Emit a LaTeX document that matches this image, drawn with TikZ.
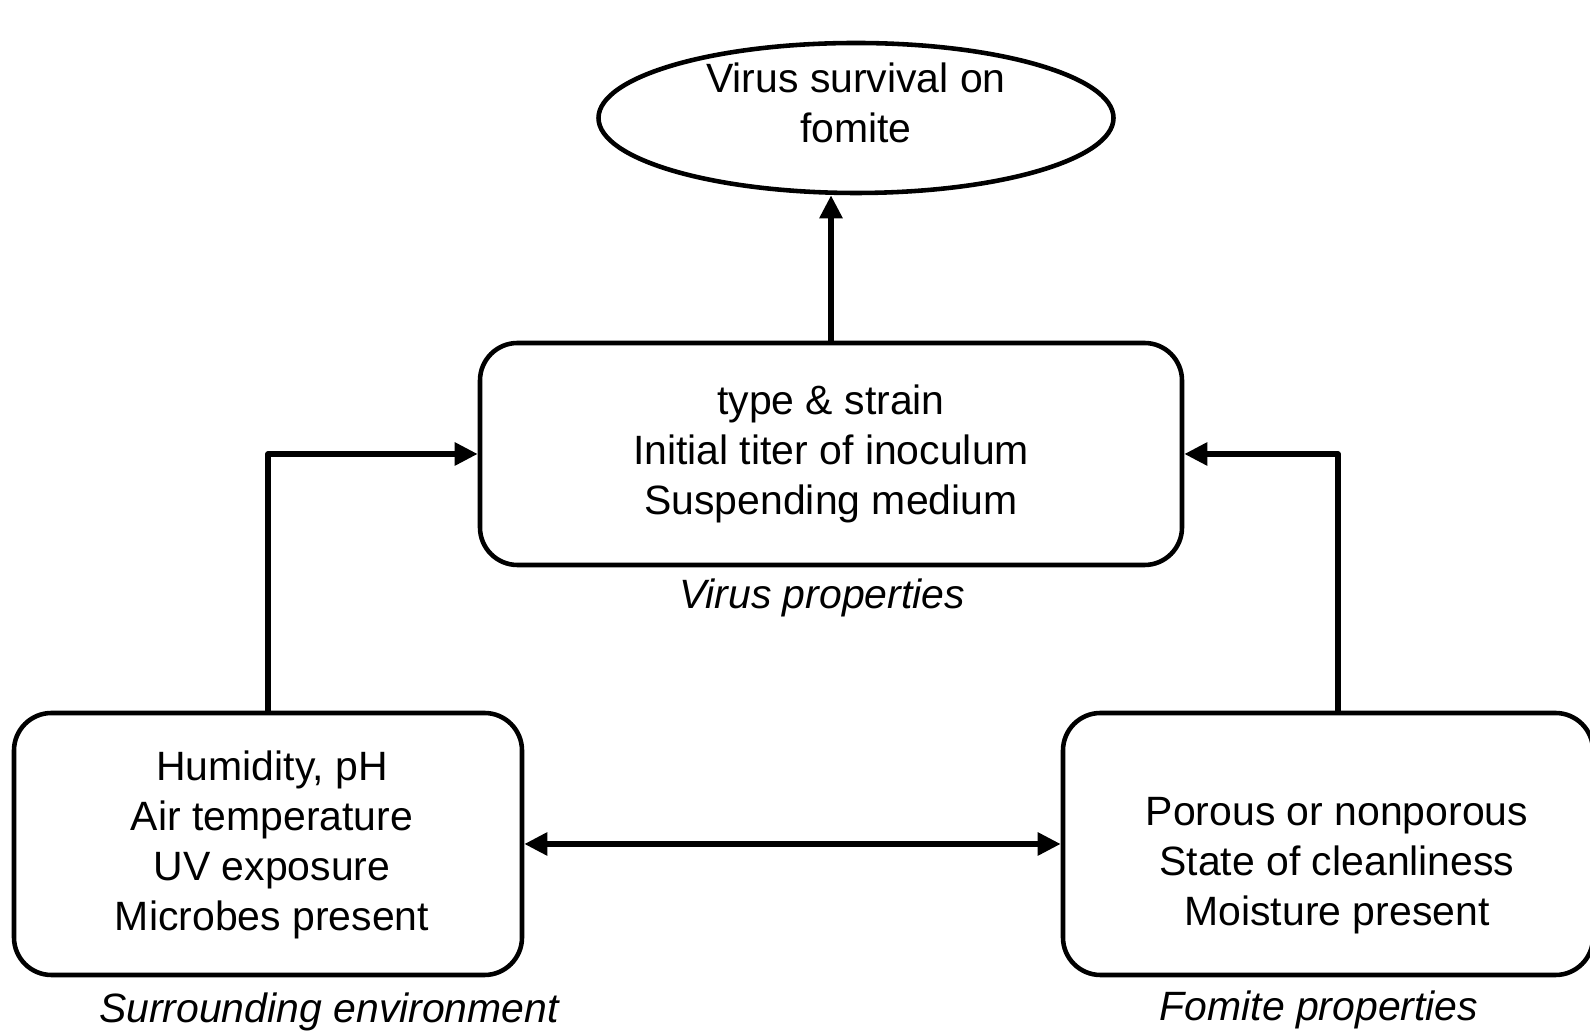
\documentclass[tikz,border=0pt]{standalone}
\usepackage{fontspec}
\setmainfont{Liberation Sans}
\usetikzlibrary{arrows.meta,shapes.geometric}
\begin{document}
\begin{tikzpicture}[font=\fontsize{23.3}{28.4}\selectfont, line join=round,
		>={Triangle[length=0.46cm,width=0.44cm]},
		box/.style={draw, line width=2.6pt, rounded corners=0.75cm, align=center},
		caption/.style={font=\fontsize{23.3}{28.4}\selectfont\itshape},
		link/.style={line width=3.2pt}]
		\useasboundingbox (0,0) rectangle (31.8,20.7);
		% shapes
		\node[draw, ellipse, line width=2.6pt, minimum width=10.3cm, minimum height=3cm] (surv) at (17.12,18.34) {};
		\node[align=center] (survtxt) at (17.12,18.64) {Virus survival on\\fomite};
		\node[box, minimum width=14.04cm, minimum height=4.44cm] (vir) at (16.62,11.62) {type \& strain\\Initial titer of inoculum\\Suspending medium};
		\node[box, minimum width=10.16cm, minimum height=5.24cm] (env) at (5.36,3.82) {};
		\node[align=center] (envtxt) at (5.44,3.8) {Humidity, pH\\Air temperature\\UV exposure\\Microbes present};
		\node[box, minimum width=10.6cm, minimum height=5.24cm] (fom) at (26.56,3.82) {};
		\node[align=center] (fomtxt) at (26.74,3.38) {Porous or nonporous\\State of cleanliness\\Moisture present};
		% captions
		\node[caption] (virlbl) at (16.44,8.74) {Virus properties};
		\node[caption] (envlbl) at (6.58,0.46) {Surrounding environment};
		\node[caption] (fomlbl) at (26.38,0.5) {Fomite properties};
		% links
		\draw[link,->] (vir.north) -- (vir.north |- surv.south);
		\draw[link,->] (env.north) |- (vir.west);
		\draw[link,->] ([xshift=0.2cm]fom.north) |- (vir.east);
		\draw[link,<->] (env.east) -- (fom.west);
	\end{tikzpicture}
\end{document}
